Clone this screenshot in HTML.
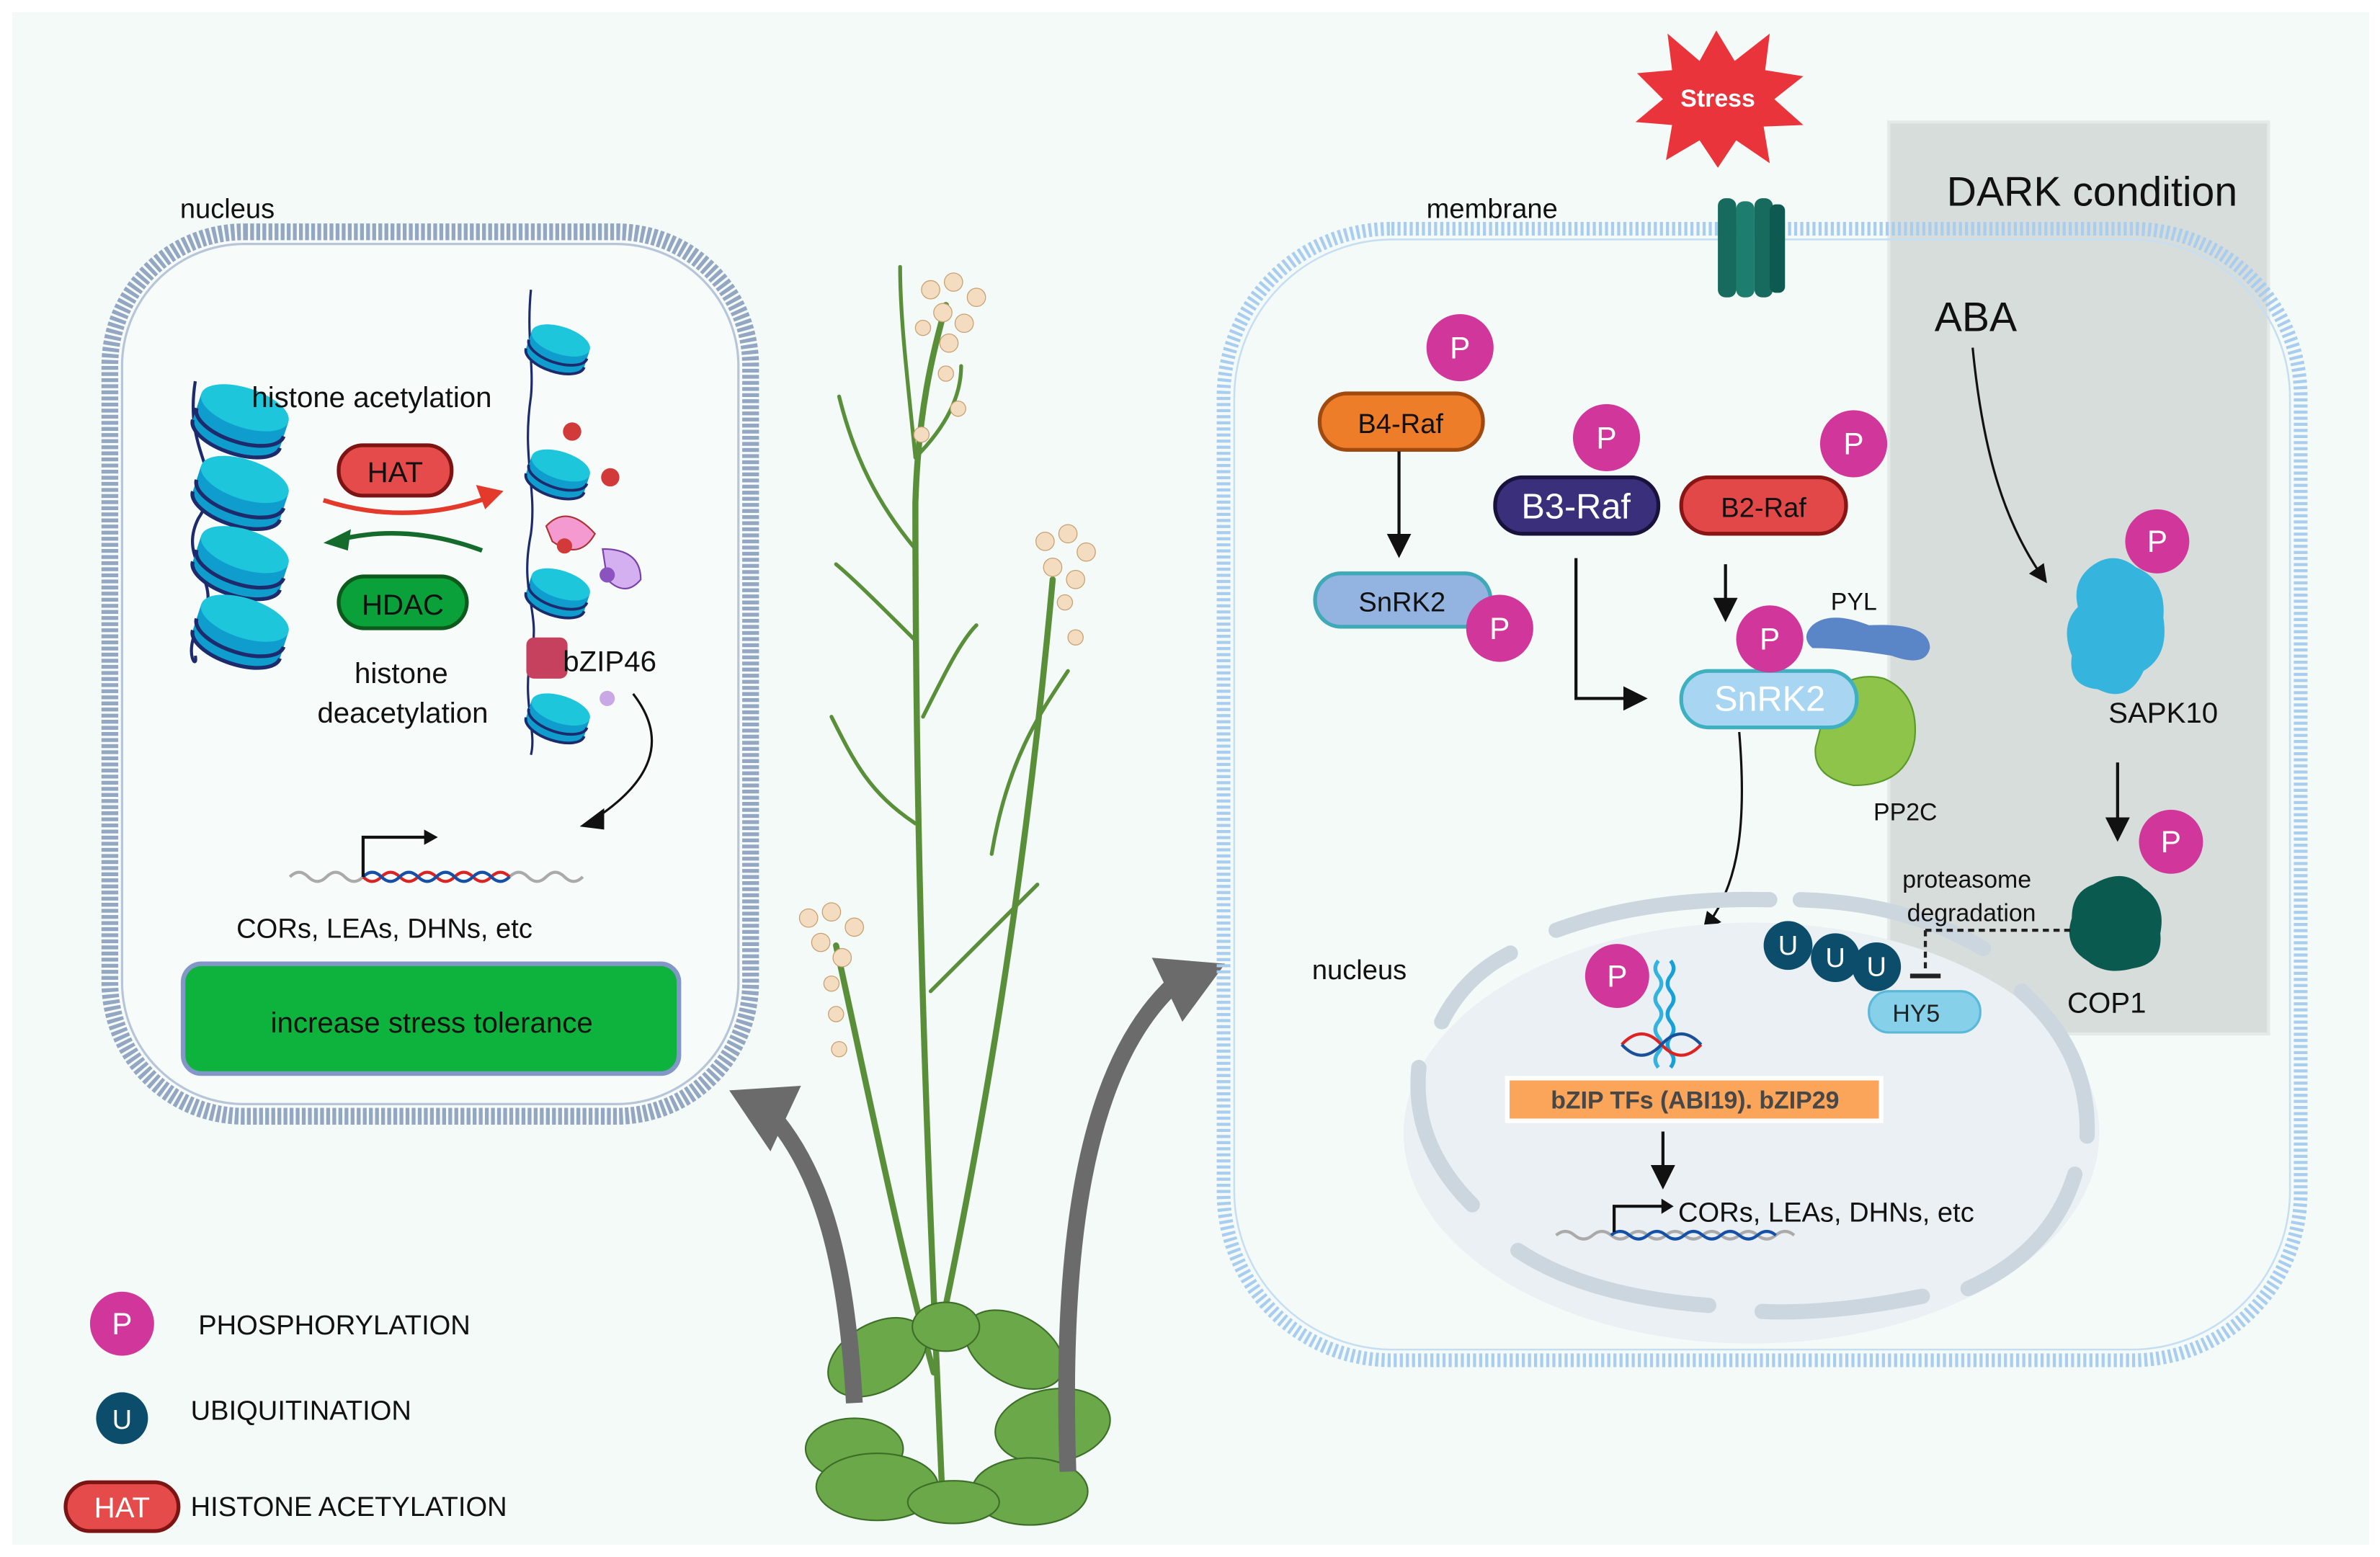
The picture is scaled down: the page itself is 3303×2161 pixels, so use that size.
<!DOCTYPE html>
<html><head><meta charset="utf-8"><style>
html,body{margin:0;padding:0;background:#fff}
svg{display:block}
text{font-family:"Liberation Sans",sans-serif}
</style></head><body>
<svg width="3303" height="2161" viewBox="0 0 1560 1021" preserveAspectRatio="none" xmlns="http://www.w3.org/2000/svg">
<defs>
<marker id="ah" markerWidth="8" markerHeight="8" refX="6" refY="4" orient="auto" markerUnits="strokeWidth"><path d="M0,0 L8,4 L0,8 z" fill="#111"/></marker>
<g id="nuc">
<path d="M-30,-8 L-30,10 A30,13 0 0 0 30,10 L30,-8 z" fill="#0e9dcc"/>
<ellipse cx="0" cy="-8" rx="30" ry="13" fill="#1ec6dc"/>
<path d="M-30,2 A30,13 0 0 0 30,2 M-30,10 A30,13 0 0 0 30,10" fill="none" stroke="#1d2a6b" stroke-width="2.5"/>
</g>
<g id="snuc">
<path d="M-20,-5 L-20,7 A20,9 0 0 0 20,7 L20,-5 z" fill="#0e9dcc"/>
<ellipse cx="0" cy="-5" rx="20" ry="9" fill="#1ec6dc"/>
<path d="M-20,1 A20,9 0 0 0 20,1 M-20,7 A20,9 0 0 0 20,7" fill="none" stroke="#1d2a6b" stroke-width="1.8"/>
</g>
</defs>
<rect width="1560" height="1021" fill="#fff"/>
<rect x="8" y="8" width="1545" height="1005" fill="#f4faf7"/>

<!-- LEFT CELL -->
<rect x="72" y="152" width="420" height="580" rx="88" fill="#f7fbfa" stroke="#93a6c2" stroke-width="11" stroke-dasharray="2.5 1.5"/>
<rect x="80" y="160" width="404" height="564" rx="80" fill="none" stroke="#b7c5d8" stroke-width="1.5"/>
<text x="118" y="143" font-size="18" fill="#111">nucleus</text>

<path d="M128,250 C120,300 150,310 130,340 C115,370 150,380 130,410 C120,430 130,440 128,430" fill="none" stroke="#1d2a6b" stroke-width="2"/>
<use href="#nuc" transform="translate(158,275) rotate(18)"/>
<use href="#nuc" transform="translate(158,322) rotate(18)"/>
<use href="#nuc" transform="translate(158,368) rotate(18)"/>
<use href="#nuc" transform="translate(158,413) rotate(18)"/>
<text x="165" y="267" font-size="19" fill="#111">histone acetylation</text>
<rect x="222" y="292" width="74" height="33" rx="16" fill="#e54b4b" stroke="#7d1414" stroke-width="2.5"/>
<text x="259" y="316" font-size="19" text-anchor="middle" fill="#111">HAT</text>
<path d="M212,328 Q265,345 318,327" fill="none" stroke="#e43a2c" stroke-width="3"/>
<path d="M312,318 L330,322 L318,334 z" fill="#e43a2c"/>
<path d="M316,361 Q265,342 218,355" fill="none" stroke="#146b2c" stroke-width="3"/>
<path d="M212,356 L230,347 L228,361 z" fill="#146b2c"/>
<rect x="222" y="378" width="84" height="34" rx="17" fill="#0aa03a" stroke="#0d5a1c" stroke-width="2.5"/>
<text x="264" y="403" font-size="19" text-anchor="middle" fill="#111">HDAC</text>
<text x="263" y="448" font-size="19" text-anchor="middle" fill="#111">histone</text>
<text x="264" y="474" font-size="19" text-anchor="middle" fill="#111">deacetylation</text>

<path d="M348,190 C345,220 350,240 348,260 C342,300 352,320 348,350 C340,390 355,400 348,430 C342,460 352,480 348,495" fill="none" stroke="#1d2a6b" stroke-width="1.5"/>
<use href="#snuc" transform="translate(366,228) rotate(18)"/>
<use href="#snuc" transform="translate(366,310) rotate(18)"/>
<use href="#snuc" transform="translate(366,388) rotate(18)"/>
<use href="#snuc" transform="translate(366,470) rotate(18)"/>
<circle cx="375" cy="283" r="6" fill="#d23a3a"/><circle cx="400" cy="313" r="6" fill="#d23a3a"/>
<path d="M358,345 Q372,330 390,350 Q380,368 362,355 z" fill="#f49ad0" stroke="#a33" stroke-width="1"/>
<path d="M395,360 Q420,360 420,380 Q410,392 398,380 z" fill="#d4b0f0" stroke="#7a3fa8" stroke-width="1"/>
<circle cx="370" cy="358" r="5" fill="#d23a3a"/><circle cx="398" cy="377" r="5" fill="#8b53c0"/>
<circle cx="398" cy="458" r="5" fill="#c9a8e6"/>
<rect x="345" y="418" width="27" height="27" rx="5" fill="#c5415e"/>
<text x="369" y="440" font-size="19" fill="#111">bZIP46</text>
<path d="M415,455 Q450,500 385,540" fill="none" stroke="#111" stroke-width="1.5"/>
<path d="M380,542 L396,530 L396,544 z" fill="#111"/>
<path d="M190,575 q6,-6 12,0 t12,0 t12,0 t12,0 t12,0 t12,0 t12,0 t12,0 t12,0 t12,0 t12,0 t12,0 t12,0 t12,0 t12,0 t12,0" fill="none" stroke="#aaa" stroke-width="2"/>
<path d="M238,575 q6,6 12,0 t12,0 t12,0 t12,0 t12,0 t12,0 t12,0 t12,0" fill="none" stroke="#d22" stroke-width="2"/>
<path d="M238,575 q6,-6 12,0 t12,0 t12,0 t12,0 t12,0 t12,0 t12,0 t12,0" fill="none" stroke="#1450a8" stroke-width="2"/>
<path d="M238,575 V549 H280" fill="none" stroke="#111" stroke-width="2"/>
<path d="M278,544 L287,549 L278,554 z" fill="#111"/>
<text x="155" y="615" font-size="18" fill="#111">CORs, LEAs, DHNs, etc</text>
<rect x="120" y="632" width="325" height="72" rx="12" fill="#0db33c" stroke="#8296c8" stroke-width="3"/>
<text x="283" y="677" font-size="19" text-anchor="middle" fill="#111">increase stress tolerance</text>

<!-- PLANT -->
<g fill="none" stroke="#5a8f3a" stroke-width="4" stroke-linecap="round">
<path d="M618,990 C610,800 600,600 600,330 C602,260 615,220 620,200"/>
<path d="M612,900 C590,820 570,720 548,620"/>
<path d="M615,880 C640,760 670,600 690,380"/>
<path d="M600,360 C575,330 560,300 550,260" stroke-width="2.5"/>
<path d="M600,420 C580,400 560,380 548,370" stroke-width="2.5"/>
<path d="M605,470 C620,440 630,420 640,410" stroke-width="2.5"/>
<path d="M600,300 C595,250 590,210 590,175" stroke-width="2.5"/>
<path d="M600,300 C620,280 630,260 630,240" stroke-width="2.5"/>
<path d="M650,560 C660,500 680,470 700,440" stroke-width="2.5"/>
<path d="M600,540 C570,520 560,500 545,470" stroke-width="2.5"/>
<path d="M610,650 C640,620 660,600 680,580" stroke-width="2.5"/>
</g>
<g fill="#f3dcc0" stroke="#c8a070" stroke-width="0.6">
<circle cx="610" cy="190" r="6"/><circle cx="625" cy="185" r="6"/><circle cx="640" cy="195" r="6"/><circle cx="618" cy="205" r="6"/><circle cx="632" cy="212" r="6"/><circle cx="622" cy="225" r="6"/><circle cx="605" cy="215" r="5"/><circle cx="620" cy="245" r="5"/><circle cx="628" cy="268" r="5"/><circle cx="604" cy="285" r="5"/>
<circle cx="685" cy="355" r="6"/><circle cx="700" cy="350" r="6"/><circle cx="712" cy="362" r="6"/><circle cx="690" cy="372" r="6"/><circle cx="705" cy="380" r="6"/><circle cx="698" cy="395" r="5"/><circle cx="705" cy="418" r="5"/>
<circle cx="530" cy="602" r="6"/><circle cx="545" cy="598" r="6"/><circle cx="560" cy="608" r="6"/><circle cx="538" cy="618" r="6"/><circle cx="552" cy="628" r="6"/><circle cx="545" cy="645" r="5"/><circle cx="548" cy="665" r="5"/><circle cx="550" cy="688" r="5"/>
</g>
<g fill="#6aa84a" stroke="#3d6e28" stroke-width="1">
<ellipse cx="575" cy="890" rx="35" ry="22" transform="rotate(-30 575 890)"/>
<ellipse cx="665" cy="885" rx="35" ry="22" transform="rotate(30 665 885)"/>
<ellipse cx="690" cy="935" rx="38" ry="24" transform="rotate(-10 690 935)"/>
<ellipse cx="560" cy="950" rx="32" ry="20"/>
<ellipse cx="575" cy="975" rx="40" ry="22"/>
<ellipse cx="675" cy="978" rx="38" ry="22"/>
<ellipse cx="625" cy="985" rx="30" ry="14"/>
<ellipse cx="620" cy="870" rx="22" ry="16"/>
</g>
<path d="M560,920 C555,830 540,770 505,730" fill="none" stroke="#6b6b6b" stroke-width="11"/>
<path d="M478,715 L525,712 L505,755 z" fill="#6b6b6b"/>
<path d="M700,965 C695,820 710,700 770,645" fill="none" stroke="#6b6b6b" stroke-width="11"/>
<path d="M803,632 L755,628 L775,670 z" fill="#6b6b6b"/>

<!-- RIGHT CELL -->
<rect x="1238" y="80" width="249" height="598" fill="#d7ddda" stroke="#e4eae7" stroke-width="2"/>
<rect x="802" y="150" width="706" height="742" rx="110" fill="none" stroke="#a9cdee" stroke-width="9" stroke-dasharray="2 2"/>
<rect x="809" y="157" width="692" height="728" rx="104" fill="none" stroke="#c6def2" stroke-width="1.2"/>
<text x="935" y="143" font-size="18" fill="#111">membrane</text>
<text x="1276" y="135" font-size="27" fill="#111">DARK condition</text>
<text x="1268" y="217" font-size="27" fill="#111">ABA</text>
<path d="M1125,20 L1137,40 L1160,22 L1157,46 L1182,50 L1163,65 L1182,82 L1156,83 L1160,107 L1138,92 L1126,110 L1114,92 L1092,105 L1096,82 L1072,80 L1090,65 L1073,48 L1096,46 L1093,22 L1114,40 z" fill="#e8343a"/>
<text x="1126" y="70" font-size="16" font-weight="bold" text-anchor="middle" fill="#fff">Stress</text>
<g fill="#166a5e"><rect x="1126" y="130" width="12" height="65" rx="5"/><rect x="1138" y="132" width="12" height="63" rx="5" fill="#1d7e70"/><rect x="1150" y="130" width="12" height="65" rx="5"/><rect x="1160" y="134" width="10" height="58" rx="4" fill="#0f5a50"/></g>

<rect x="865" y="258" width="107" height="37" rx="18" fill="#ee7d2a" stroke="#a14a10" stroke-width="2.5"/>
<text x="918" y="284" font-size="18" text-anchor="middle" fill="#111">B4-Raf</text>
<rect x="862" y="376" width="115" height="35" rx="17" fill="#93b3e0" stroke="#3fa9b8" stroke-width="2.5"/>
<text x="919" y="401" font-size="18" text-anchor="middle" fill="#111">SnRK2</text>
<line x1="917" y1="296" x2="917" y2="362" stroke="#111" stroke-width="2" marker-end="url(#ah)"/>
<rect x="980" y="313" width="107" height="37" rx="18" fill="#3a2f7a" stroke="#18123d" stroke-width="2.5"/>
<text x="1033" y="340" font-size="23" text-anchor="middle" fill="#fff">B3-Raf</text>
<rect x="1102" y="313" width="108" height="37" rx="18" fill="#e24848" stroke="#8a1515" stroke-width="2.5"/>
<text x="1156" y="339" font-size="18" text-anchor="middle" fill="#111">B2-Raf</text>
<path d="M1033,366 V458 H1076" fill="none" stroke="#111" stroke-width="2" marker-end="url(#ah)"/>
<line x1="1131" y1="370" x2="1131" y2="404" stroke="#111" stroke-width="2" marker-end="url(#ah)"/>
<text x="1200" y="400" font-size="16" fill="#111">PYL</text>
<path d="M1188,410 Q1200,400 1225,410 Q1265,408 1265,425 Q1262,438 1240,430 Q1210,425 1188,425 Q1180,418 1188,410 z" fill="#5a86c8"/>
<path d="M1200,455 Q1215,440 1235,445 Q1258,455 1255,485 Q1250,515 1215,515 Q1188,510 1190,490 Q1195,470 1200,455 z" fill="#8ec44a" stroke="#5a9a2a" stroke-width="1"/>
<text x="1228" y="538" font-size="16" fill="#111">PP2C</text>
<rect x="1102" y="440" width="115" height="37" rx="18" fill="#a8d6f2" stroke="#3fb0c0" stroke-width="2.5"/>
<text x="1160" y="466" font-size="23" text-anchor="middle" fill="#fff">SnRK2</text>
<path d="M1140,480 C1145,540 1140,580 1118,608" fill="none" stroke="#111" stroke-width="1.5" marker-end="url(#ah)"/>

<path d="M1293,228 C1300,300 1315,345 1340,380" fill="none" stroke="#111" stroke-width="1.5" marker-end="url(#ah)"/>
<path d="M1370,372 Q1385,360 1400,372 Q1420,380 1418,405 Q1422,430 1405,440 Q1395,462 1375,452 Q1355,450 1358,430 Q1350,410 1362,398 Q1358,382 1370,372 z" fill="#35b4dd"/>
<text x="1382" y="474" font-size="19" fill="#111">SAPK10</text>
<line x1="1388" y1="500" x2="1388" y2="548" stroke="#111" stroke-width="2" marker-end="url(#ah)"/>
<path d="M1372,580 Q1392,568 1405,582 Q1420,592 1416,612 Q1418,632 1398,635 Q1380,640 1368,630 Q1352,620 1358,602 Q1358,585 1372,580 z" fill="#0b5a50"/>
<text x="1355" y="664" font-size="19" fill="#111">COP1</text>

<ellipse cx="1148" cy="743" rx="228" ry="138" fill="#eaf0f3"/>
<g fill="none" stroke="#ccd6de" stroke-width="10" stroke-linecap="round">
<path d="M1020,610 Q1080,588 1160,590"/>
<path d="M1180,590 Q1250,592 1300,622"/>
<path d="M1325,650 Q1370,690 1368,745"/>
<path d="M1360,770 Q1345,820 1290,845"/>
<path d="M1260,850 Q1200,862 1155,860"/>
<path d="M1120,856 Q1040,850 995,820"/>
<path d="M965,790 Q925,750 930,700"/>
<path d="M945,670 Q960,640 990,625"/>
</g>
<text x="860" y="642" font-size="18" fill="#111">nucleus</text>
<text x="1247" y="582" font-size="16" fill="#111">proteasome</text>
<text x="1250" y="604" font-size="16" fill="#111">degradation</text>
<path d="M1262,610 H1360" fill="none" stroke="#222" stroke-width="2" stroke-dasharray="4 3"/>
<path d="M1262,610 V638" fill="none" stroke="#222" stroke-width="2" stroke-dasharray="4 3"/>
<line x1="1252" y1="640" x2="1272" y2="640" stroke="#222" stroke-width="3"/>
<rect x="1225" y="650" width="73" height="27" rx="13" fill="#86d0ea" stroke="#5ab8d8" stroke-width="1.5"/>
<text x="1256" y="670" font-size="16" text-anchor="middle" fill="#222">HY5</text>
<g fill="#0b4d6a"><circle cx="1172" cy="620" r="16"/><circle cx="1203" cy="628" r="16"/><circle cx="1230" cy="634" r="16"/></g>
<g font-size="18" fill="#fff" text-anchor="middle"><text x="1172" y="626">U</text><text x="1203" y="634">U</text><text x="1230" y="640">U</text></g>
<path d="M1087,630 q-4,5 0,10 t0,10 t0,10 t0,10 t0,10 t0,10 t0,10" fill="none" stroke="#33b4e0" stroke-width="2.5"/>
<path d="M1095,630 q4,5 0,10 t0,10 t0,10 t0,10 t0,10 t0,10 t0,10" fill="none" stroke="#1aa0d8" stroke-width="2.5"/>
<path d="M1063,685 q13,-14 26,0 t26,0" fill="none" stroke="#d22" stroke-width="2"/>
<path d="M1063,685 q13,14 26,0 t26,0" fill="none" stroke="#1a4f9a" stroke-width="2"/>
<rect x="988" y="707" width="245" height="28" fill="#fba55a" stroke="#fff" stroke-width="3"/>
<text x="1111" y="727" font-size="16" font-weight="bold" text-anchor="middle" fill="#474747">bZIP TFs (ABI19). bZIP29</text>
<line x1="1090" y1="742" x2="1090" y2="776" stroke="#111" stroke-width="2" marker-end="url(#ah)"/>
<path d="M1020,810 q6,-5 12,0 t12,0 t12,0 t12,0 t12,0 t12,0 t12,0 t12,0 t12,0 t12,0 t12,0 t12,0 t12,0" fill="none" stroke="#aaa" stroke-width="2"/>
<path d="M1056,810 q6,-5 12,0 t12,0 t12,0 t12,0 t12,0 t12,0 t12,0 t12,0 t12,0" fill="none" stroke="#1450a8" stroke-width="2"/>
<path d="M1058,808 V791 H1090" fill="none" stroke="#111" stroke-width="2"/>
<path d="M1089,786 L1097,791 L1089,796 z" fill="#111"/>
<text x="1100" y="801" font-size="18" fill="#111">CORs, LEAs, DHNs, etc</text>

<g fill="#d1379a"><circle cx="957" cy="228" r="22"/><circle cx="983" cy="412" r="22"/><circle cx="1053" cy="287" r="22"/><circle cx="1215" cy="291" r="22"/><circle cx="1160" cy="419" r="22"/><circle cx="1414" cy="355" r="21"/><circle cx="1423" cy="552" r="21"/><circle cx="1060" cy="640" r="21"/><circle cx="80" cy="868" r="21"/></g>
<g font-size="20" fill="#fff" text-anchor="middle">
<text x="957" y="235">P</text><text x="983" y="419">P</text><text x="1053" y="294">P</text><text x="1215" y="298">P</text><text x="1160" y="426">P</text><text x="1414" y="362">P</text><text x="1423" y="559">P</text><text x="1060" y="647">P</text><text x="80" y="875">P</text></g>

<text x="130" y="875" font-size="18" fill="#111">PHOSPHORYLATION</text>
<circle cx="80" cy="930" r="17" fill="#0b4d6a"/>
<text x="80" y="937" font-size="18" fill="#fff" text-anchor="middle">U</text>
<text x="125" y="931" font-size="18" fill="#111">UBIQUITINATION</text>
<rect x="43" y="972" width="74" height="32" rx="16" fill="#e54b4b" stroke="#7d1414" stroke-width="2.5"/>
<text x="80" y="995" font-size="19" fill="#fff" text-anchor="middle">HAT</text>
<text x="125" y="994" font-size="18" fill="#111">HISTONE ACETYLATION</text>
</svg>
</body></html>
